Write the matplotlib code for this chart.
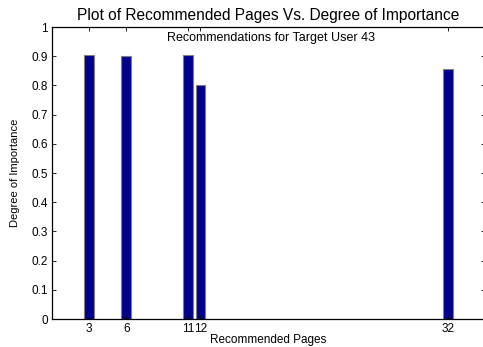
import matplotlib
matplotlib.use('Agg')
import matplotlib.pyplot as plt
import numpy as np

plt.rcParams['font.family'] = ['Liberation Sans', 'DejaVu Sans']

pages = [3, 6, 11, 12, 32]
importance = [0.905, 0.902, 0.905, 0.803, 0.856]
tick_labels = ['3', '6', '11', '12', '32']

fig = plt.figure(figsize=(4.83, 3.47), dpi=100)
# axes runs slightly past the right edge of the canvas
ax = fig.add_axes([52 / 483, 28 / 347, 433 / 483, 292 / 347])

ax.bar(pages, importance, width=0.8, color='#00008f', edgecolor='#808080', linewidth=0.8)

ax.set_xlim(0, 35)
ax.set_ylim(0, 1)
ax.set_xticks(pages)
ax.set_xticklabels(tick_labels)
ax.set_yticks(np.arange(0, 1.01, 0.1))
ax.set_yticklabels(['0', '0.1', '0.2', '0.3', '0.4', '0.5', '0.6', '0.7', '0.8', '0.9', '1'])
ax.tick_params(direction='in', top=True, right=True, length=3, width=0.6, labelsize=8.5, pad=3)
for s in ax.spines.values():
    s.set_linewidth(0.9)

ax.set_title('Plot of Recommended Pages Vs. Degree of Importance', fontsize=11.2, pad=5)
ax.set_xlabel('Recommended Pages', fontsize=8.5)
ax.xaxis.set_label_coords(0.5, -0.05)
ax.set_ylabel('Degree of Importance', fontsize=8, labelpad=8)
ax.text(0.505, 0.962, 'Recommendations for Target User 43', transform=ax.transAxes,
        ha='center', va='center', fontsize=9)

fig.savefig('out.png', dpi=100)
